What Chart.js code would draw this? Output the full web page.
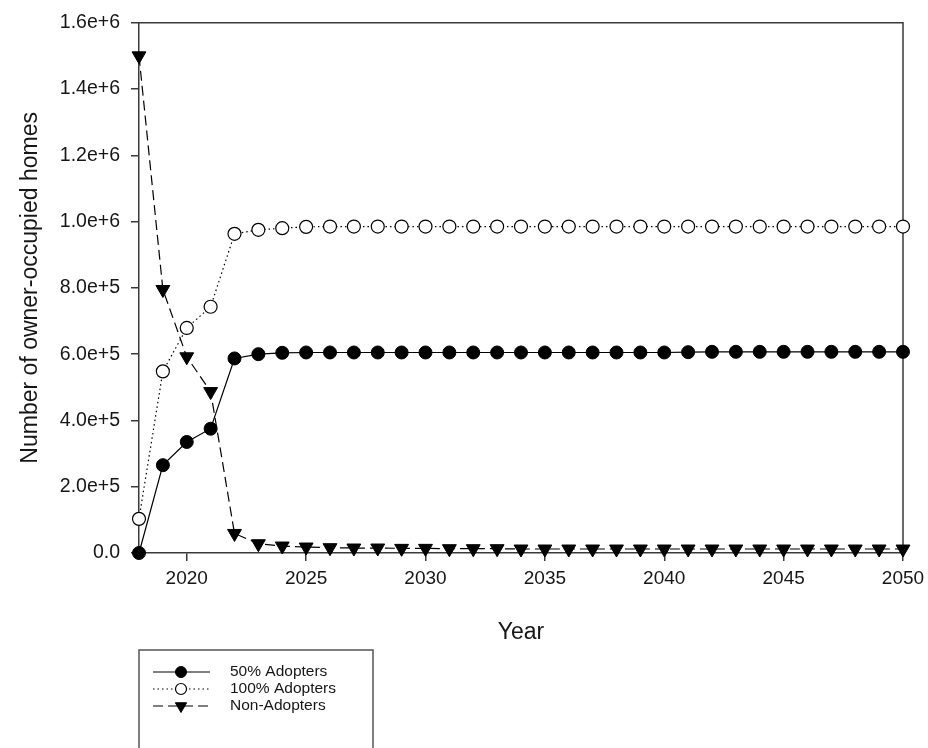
<!DOCTYPE html>
<html>
<head>
<meta charset="utf-8">
<title>Owner-occupied homes by adopter group</title>
<script src="https://cdn.jsdelivr.net/npm/chart.js@4"></script>
<style>
  html, body { margin: 0; padding: 0; background: #fff; }
  #wrap { width: 928px; height: 748px; }
</style>
</head>
<body>
<div id="wrap"><canvas id="c" width="928" height="748"></canvas></div>
<script>
// Years on the horizontal axis
const years = [2018, 2019, 2020, 2021, 2022, 2023, 2024, 2025, 2026, 2027, 2028,
  2029, 2030, 2031, 2032, 2033, 2034, 2035, 2036, 2037, 2038, 2039, 2040,
  2041, 2042, 2043, 2044, 2045, 2046, 2047, 2048, 2049, 2050];

// Number of owner-occupied homes per group
const adopters50 = [0, 265000, 335000, 375000, 587000, 600000, 604000, 605000, 605000, 605000, 605000,
  605000, 605000, 605000, 605000, 605000, 605000, 605000, 605000, 605000, 605000, 605000, 605000,
  606000, 607000, 607000, 607000, 607000, 607000, 607000, 607000, 607000, 607000];
const adopters100 = [103000, 548000, 679000, 743000, 963000, 975000, 980000, 984000, 985000, 985000, 985000,
  985000, 985000, 985000, 985000, 985000, 985000, 985000, 985000, 985000, 985000, 985000, 985000,
  985000, 985000, 985000, 985000, 985000, 985000, 985000, 985000, 985000, 985000];
const nonAdopters = [1500000, 795000, 592000, 487000, 59000, 28000, 21000, 18000, 16000, 15000, 15000,
  14000, 14000, 13000, 13000, 13000, 12000, 12000, 12000, 12000, 12000, 12000, 12000,
  12000, 12000, 12000, 12000, 12000, 12000, 12000, 12000, 12000, 12000];

const seriesNames = ['50% Adopters', '100% Adopters', 'Non-Adopters'];
const xTickValues = [2020, 2025, 2030, 2035, 2040, 2045, 2050];
const yMax = 1600000;
const yStep = 200000;

const FONT = "'Liberation Sans', Arial, Helvetica, sans-serif";
const AXIS = '#3a3a3a';
const INK = '#161616';

function toPoints(values) {
  return years.map((yr, i) => ({ x: yr, y: values[i] }));
}

// 2.0e+5 style tick labels
function sciLabel(v) {
  if (v === 0) return '0.0';
  const e = Math.floor(Math.log10(v) + 1e-9);
  const m = v / Math.pow(10, e);
  return m.toFixed(1) + 'e+' + e;
}

// Top and right edges of the plot frame
const framePlugin = {
  id: 'frame',
  beforeDatasetsDraw(chart) {
    const { ctx, chartArea: a } = chart;
    ctx.save();
    ctx.strokeStyle = AXIS;
    ctx.lineWidth = 1.5;
    ctx.beginPath();
    ctx.moveTo(a.left, a.top);
    ctx.lineTo(a.right, a.top);
    ctx.lineTo(a.right, a.bottom);
    ctx.stroke();
    ctx.restore();
  }
};

// Boxed legend below the plot, drawn from each dataset's own styling
const legendPlugin = {
  id: 'boxLegend',
  afterDraw(chart) {
    const ctx = chart.ctx;
    const left = 139, top = 650, width = 234;
    ctx.save();
    ctx.strokeStyle = '#555';
    ctx.lineWidth = 1.5;
    ctx.beginPath();
    ctx.moveTo(left, chart.height + 2);
    ctx.lineTo(left, top);
    ctx.lineTo(left + width, top);
    ctx.lineTo(left + width, chart.height + 2);
    ctx.stroke();

    const rowY = [672, 689, 706];
    chart.data.datasets.forEach((ds, i) => {
      const y = rowY[i];
      ctx.save();
      ctx.strokeStyle = ds.borderColor;
      ctx.lineWidth = ds.borderWidth;
      ctx.setLineDash(ds.borderDash || []);
      ctx.beginPath();
      ctx.moveTo(153, y);
      ctx.lineTo(210, y);
      ctx.stroke();
      ctx.restore();
      ctx.save();
      ctx.fillStyle = ds.pointBackgroundColor;
      ctx.strokeStyle = ds.pointBorderColor;
      ctx.lineWidth = ds.pointBorderWidth;
      Chart.helpers.drawPoint(ctx, {
        pointStyle: ds.pointStyle,
        rotation: ds.pointRotation || 0,
        radius: ds.legendRadius,
        borderWidth: ds.pointBorderWidth
      }, 181, y);
      ctx.restore();
      ctx.fillStyle = INK;
      ctx.font = '15.5px ' + FONT;
      ctx.textBaseline = 'middle';
      ctx.textAlign = 'left';
      ctx.fillText(ds.label, 230, y);
    });
    ctx.restore();
  }
};

const chart = new Chart(document.getElementById('c'), {
  type: 'line',
  data: {
    datasets: [
      {
        label: seriesNames[0],
        data: toPoints(adopters50),
        borderColor: '#000',
        borderWidth: 1.2,
        pointStyle: 'circle',
        pointRadius: 6.5,
        legendRadius: 5.5,
        pointBackgroundColor: '#000',
        pointBorderColor: '#000',
        pointBorderWidth: 1,
        clip: false,
        order: 1
      },
      {
        label: seriesNames[1],
        data: toPoints(adopters100),
        borderColor: '#000',
        borderWidth: 1.2,
        borderDash: [1.5, 3],
        pointStyle: 'circle',
        pointRadius: 6.5,
        legendRadius: 5.5,
        pointBackgroundColor: '#fff',
        pointBorderColor: '#000',
        pointBorderWidth: 1.2,
        clip: false,
        order: 2
      },
      {
        label: seriesNames[2],
        data: toPoints(nonAdopters),
        borderColor: '#000',
        borderWidth: 1.2,
        borderDash: [10, 5],
        pointStyle: 'triangle',
        pointRotation: 180,
        pointRadius: 8,
        legendRadius: 6.5,
        pointBackgroundColor: '#000',
        pointBorderColor: '#000',
        pointBorderWidth: 1,
        clip: false,
        order: 0
      }
    ]
  },
  options: {
    responsive: false,
    animation: false,
    devicePixelRatio: 1,
    layout: { padding: { top: 19, right: 25, left: 0, bottom: 0 } },
    elements: { line: { tension: 0 } },
    plugins: {
      legend: { display: false },
      tooltip: { enabled: false }
    },
    scales: {
      x: {
        type: 'linear',
        min: years[0],
        max: years[years.length - 1],
        afterBuildTicks(scale) {
          scale.ticks = xTickValues.map(v => ({ value: v }));
        },
        afterFit(scale) {
          scale.height = 195;
          scale.paddingRight = 0;
        },
        ticks: {
          autoSkip: false,
          maxRotation: 0,
          padding: 6,
          color: INK,
          font: { family: FONT, size: 19 },
          callback: v => String(v)
        },
        grid: { display: true, drawOnChartArea: false, drawTicks: true, tickLength: 8, color: AXIS, lineWidth: 1.5 },
        border: { display: true, color: AXIS, width: 1.5 },
        title: {
          display: true,
          text: 'Year',
          color: INK,
          font: { family: FONT, size: 23 },
          padding: { top: 0, bottom: 102 }
        }
      },
      y: {
        type: 'linear',
        min: 0,
        max: yMax,
        afterFit(scale) { scale.width = 139; },
        ticks: {
          stepSize: yStep,
          padding: 11,
          color: INK,
          font: { family: FONT, size: 19.5 },
          callback: v => sciLabel(v)
        },
        grid: { display: true, drawOnChartArea: false, drawTicks: true, tickLength: 8, color: AXIS, lineWidth: 1.5 },
        border: { display: true, color: AXIS, width: 1.5 },
        title: {
          display: true,
          text: 'Number of owner-occupied homes',
          color: INK,
          font: { family: FONT, size: 23 },
          padding: { top: 17, bottom: 0 }
        }
      }
    }
  },
  plugins: [framePlugin, legendPlugin]
});
</script>
</body>
</html>
